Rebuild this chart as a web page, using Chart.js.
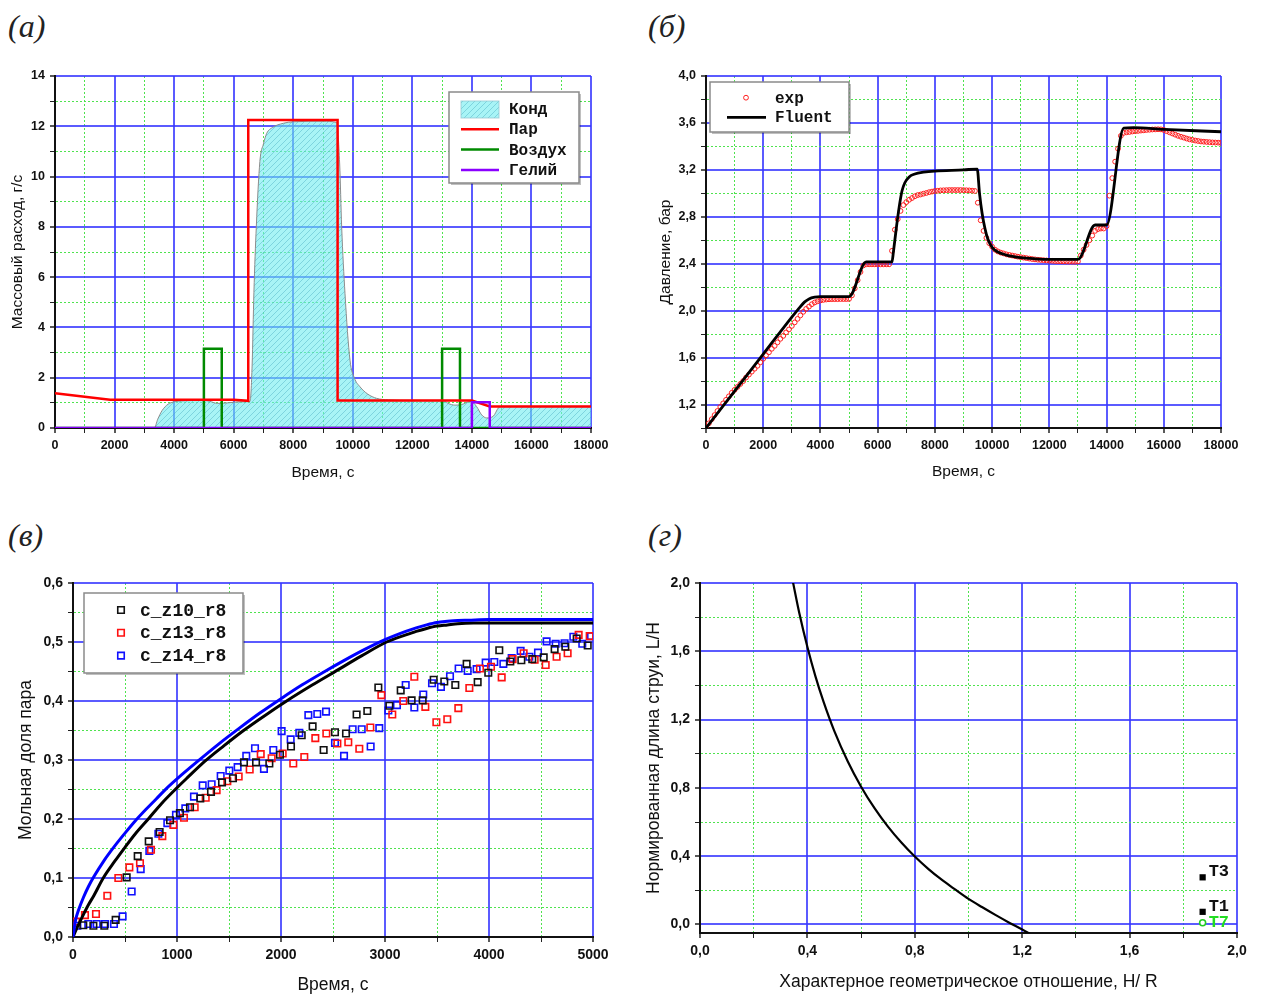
<!DOCTYPE html>
<html>
<head>
<meta charset="utf-8">
<script src="https://cdn.jsdelivr.net/npm/chart.js@4.4.1/dist/chart.umd.min.js"></script>
<style>
  body { margin: 0; background: #fff; width: 1263px; height: 996px; position: relative; overflow: hidden; }
  .pn { position: absolute; }
  .lbl { position: absolute; font: italic 32px "Liberation Serif", "Times New Roman", serif; color: #222; line-height: 40px; }
</style>
</head>
<body>
<div class="lbl" style="left:8px;top:6px">(а)</div>
<div class="lbl" style="left:648px;top:6px">(б)</div>
<div class="lbl" style="left:8px;top:515px">(в)</div>
<div class="lbl" style="left:648px;top:515px">(г)</div>

<canvas class="pn" id="ca" width="640" height="440" style="left:0;top:60px"></canvas>
<canvas class="pn" id="cb" width="623" height="440" style="left:640px;top:60px"></canvas>
<canvas class="pn" id="cc" width="630" height="436" style="left:0;top:560px"></canvas>
<canvas class="pn" id="cd" width="633" height="436" style="left:630px;top:560px"></canvas>

<script>
// ---------- (а) массовый расход, г/с ----------
const condT = [0, 3335, 3450, 3600, 3800, 4000, 4300, 5000, 5200, 5450, 5800, 6200, 6550, 6620, 6680, 6760, 6880, 7000, 7110, 7300, 7670, 8000, 9000, 9460, 9560, 9627, 9738, 9906, 10050, 10242, 10500, 10800, 11200, 12000, 13040, 13200, 13430, 13650, 13935, 14050, 14160, 14330, 14500, 14720, 14890, 15000, 18000];
const condV = [0, 0, 0.35, 0.7, 0.95, 1.04, 1.08, 1.1, 1.06, 0.98, 1.0, 1.04, 1.06, 2.5, 5.4, 8.0, 10.6, 11.3, 11.72, 11.95, 12.12, 12.18, 12.2, 12.15, 10.5, 8.0, 5.36, 2.7, 2.0, 1.64, 1.35, 1.18, 1.12, 1.1, 1.1, 0.98, 0.91, 0.93, 1.05, 1.0, 0.85, 0.52, 0.4, 0.47, 0.8, 0.86, 0.86];
const steamT = [0, 1850, 6000, 6490, 6490, 9490, 9490, 14000, 14600, 18000];
const steamV = [1.38, 1.12, 1.12, 1.08, 12.25, 12.25, 1.09, 1.09, 0.86, 0.86];
const airT = [0, 5000, 5000, 5600, 5600, 13000, 13000, 13600, 13600, 18000];
const airV = [0, 0, 3.15, 3.15, 0, 0, 3.15, 3.15, 0, 0];
const heT = [0, 14000, 14000, 14600, 14600, 18000];
const heV = [0, 0, 1.02, 1.02, 0, 0];

// ---------- (б) давление, бар ----------
const expT = [
  0, 100, 200, 300, 400, 500, 600, 700, 800, 900,
  1000, 1100, 1200, 1300, 1400, 1500, 1600, 1700, 1800, 1900,
  2000, 2100, 2200, 2300, 2400, 2500, 2600, 2700, 2800, 2900,
  3000, 3100, 3200, 3300, 3400, 3500, 3600, 3700, 3800, 3900,
  4000, 4100, 4200, 4300, 4400, 4500, 4600, 4700, 4800, 4900,
  5000, 5100, 5200, 5300, 5400, 5500, 5600, 5700, 5800, 5900,
  6000, 6100, 6200, 6300, 6400, 6500, 6600, 6700, 6800, 6900,
  7000, 7100, 7200, 7300, 7400, 7500, 7600, 7700, 7800, 7900,
  8000, 8100, 8200, 8300, 8400, 8500, 8600, 8700, 8800, 8900,
  9000, 9100, 9200, 9300, 9400, 9500, 9600, 9700, 9800, 9900,
  10000, 10100, 10200, 10300, 10400, 10500, 10600, 10700, 10800, 10900,
  11000, 11100, 11200, 11300, 11400, 11500, 11600, 11700, 11800, 11900,
  12000, 12100, 12200, 12300, 12400, 12500, 12600, 12700, 12800, 12900,
  13000, 13100, 13200, 13300, 13400, 13500, 13600, 13700, 13800, 13900,
  14000, 14100, 14200, 14300, 14400, 14500, 14600, 14700, 14800, 14900,
  15000, 15100, 15200, 15300, 15400, 15500, 15600, 15700, 15800, 15900,
  16000, 16100, 16200, 16300, 16400, 16500, 16600, 16700, 16800, 16900,
  17000, 17100, 17200, 17300, 17400, 17500, 17600, 17700, 17800, 17900, 18000];
const expP = [
  1.00, 1.04, 1.075, 1.11, 1.145, 1.18, 1.21, 1.24, 1.27, 1.30,
  1.325, 1.35, 1.375, 1.40, 1.43, 1.455, 1.48, 1.505, 1.53, 1.56,
  1.59, 1.62, 1.645, 1.675, 1.70, 1.73, 1.76, 1.785, 1.815, 1.84,
  1.87, 1.90, 1.93, 1.96, 1.99, 2.015, 2.035, 2.055, 2.07, 2.08,
  2.087, 2.092, 2.095, 2.097, 2.098, 2.098, 2.098, 2.099, 2.099, 2.099,
  2.10, 2.13, 2.19, 2.26, 2.33, 2.385, 2.395, 2.395, 2.395, 2.395,
  2.395, 2.395, 2.395, 2.395, 2.395, 2.51, 2.69, 2.78, 2.85, 2.90,
  2.925, 2.945, 2.96, 2.975, 2.985, 2.99, 2.997, 3.003, 3.01, 3.015,
  3.02, 3.022, 3.025, 3.026, 3.027, 3.028, 3.028, 3.028, 3.028, 3.028,
  3.027, 3.026, 3.025, 3.023, 3.02, 2.92, 2.77, 2.68, 2.62, 2.575,
  2.545, 2.52, 2.505, 2.495, 2.488, 2.48, 2.475, 2.47, 2.465, 2.46,
  2.456, 2.452, 2.448, 2.444, 2.44, 2.437, 2.434, 2.432, 2.43, 2.428,
  2.426, 2.425, 2.423, 2.422, 2.421, 2.42, 2.419, 2.418, 2.418, 2.417,
  2.42, 2.47, 2.52, 2.56, 2.60, 2.64, 2.68, 2.695, 2.70, 2.70,
  2.72, 2.98, 3.13, 3.27, 3.38, 3.49, 3.515, 3.52, 3.523, 3.527,
  3.53, 3.532, 3.535, 3.537, 3.54, 3.542, 3.544, 3.545, 3.546, 3.545,
  3.54, 3.53, 3.52, 3.51, 3.50, 3.49, 3.482, 3.475, 3.467, 3.46,
  3.455, 3.45, 3.446, 3.442, 3.44, 3.438, 3.436, 3.434, 3.433, 3.432, 3.43];
const fluT = [0, 1000, 2000, 3000, 3300, 3450, 3600, 3800, 4000, 5000, 5600, 6500, 6550, 6650, 6750, 6850, 6950, 7100, 7300, 7600, 8000, 9000, 9480, 9560, 9650, 9750, 9850, 10000, 10200, 10500, 11000, 11500, 12000, 13000, 13600, 14000, 14600, 14950, 16000, 18000];
const fluP = [1.0, 1.315, 1.63, 1.945, 2.035, 2.075, 2.1, 2.115, 2.12, 2.12, 2.415, 2.415, 2.5, 2.7, 2.88, 3.02, 3.09, 3.14, 3.165, 3.18, 3.19, 3.2, 3.207, 3.0, 2.83, 2.7, 2.61, 2.54, 2.5, 2.474, 2.452, 2.442, 2.437, 2.437, 2.73, 2.73, 3.555, 3.56, 3.545, 3.525];

// ---------- (в) мольная доля пара ----------
const z10T = [99, 196, 301, 410, 516, 622, 728, 833, 933, 1028, 1125, 1224, 1327, 1433, 1538, 1644, 1760, 1888, 1990, 2096, 2199, 2304, 2410, 2519, 2625, 2727, 2830, 2936, 3042, 3151, 3256, 3362, 3468, 3570, 3676, 3785, 3891, 3993, 4099, 4205, 4311, 4416, 4526, 4631, 4734, 4843, 4949];
const z10V = [0.020, 0.019, 0.019, 0.029, 0.101, 0.137, 0.162, 0.178, 0.198, 0.210, 0.220, 0.235, 0.246, 0.262, 0.269, 0.296, 0.296, 0.294, 0.309, 0.323, 0.342, 0.357, 0.317, 0.347, 0.345, 0.377, 0.383, 0.423, 0.392, 0.418, 0.401, 0.401, 0.436, 0.433, 0.427, 0.463, 0.432, 0.448, 0.486, 0.467, 0.469, 0.471, 0.474, 0.488, 0.492, 0.506, 0.494];
const z13T = [29, 115, 221, 330, 436, 542, 644, 750, 859, 965, 1067, 1170, 1276, 1381, 1484, 1593, 1699, 1805, 1910, 2016, 2118, 2224, 2330, 2436, 2542, 2647, 2753, 2859, 2965, 3070, 3176, 3282, 3388, 3494, 3599, 3705, 3811, 3913, 4019, 4122, 4227, 4333, 4439, 4545, 4650, 4756, 4862, 4968];
const z13V = [0.026, 0.037, 0.039, 0.070, 0.100, 0.118, 0.125, 0.148, 0.171, 0.190, 0.202, 0.220, 0.236, 0.249, 0.264, 0.272, 0.284, 0.310, 0.303, 0.311, 0.294, 0.305, 0.337, 0.345, 0.328, 0.330, 0.319, 0.355, 0.410, 0.377, 0.400, 0.441, 0.390, 0.364, 0.369, 0.388, 0.422, 0.455, 0.458, 0.440, 0.471, 0.481, 0.470, 0.461, 0.475, 0.481, 0.512, 0.510];
const z14T = [42, 147, 228, 308, 394, 477, 564, 651, 734, 821, 907, 990, 1080, 1163, 1247, 1333, 1420, 1503, 1583, 1666, 1750, 1836, 1926, 2006, 2093, 2176, 2263, 2349, 2433, 2519, 2606, 2689, 2776, 2862, 2945, 3032, 3115, 3199, 3282, 3368, 3452, 3538, 3625, 3708, 3795, 3881, 3968, 4051, 4138, 4218, 4304, 4388, 4471, 4554, 4641, 4727, 4811, 4897, 4981];
const z14V = [0.019, 0.022, 0.022, 0.022, 0.022, 0.035, 0.077, 0.115, 0.146, 0.175, 0.193, 0.207, 0.218, 0.238, 0.257, 0.259, 0.273, 0.282, 0.288, 0.307, 0.320, 0.285, 0.317, 0.349, 0.335, 0.346, 0.376, 0.378, 0.382, 0.329, 0.307, 0.352, 0.352, 0.323, 0.354, 0.384, 0.393, 0.427, 0.389, 0.411, 0.430, 0.424, 0.442, 0.455, 0.451, 0.454, 0.465, 0.466, 0.463, 0.473, 0.485, 0.475, 0.482, 0.501, 0.497, 0.498, 0.509, 0.497, 0.510];
const modBlueT = [0, 25, 50, 100, 150, 200, 300, 400, 500, 600, 700, 800, 900, 1000, 1200, 1400, 1600, 1800, 2000, 2200, 2400, 2600, 2800, 3000, 3200, 3300, 3400, 3500, 3600, 3700, 3800, 4000, 5000];
const modBlueV = [0, 0.029, 0.044, 0.067, 0.086, 0.102, 0.13, 0.154, 0.176, 0.197, 0.216, 0.234, 0.252, 0.268, 0.298, 0.327, 0.354, 0.38, 0.404, 0.427, 0.448, 0.468, 0.487, 0.504, 0.518, 0.524, 0.529, 0.533, 0.535, 0.5365, 0.537, 0.538, 0.538];
const modBlackT = [0, 50, 100, 150, 200, 291, 400, 500, 600, 724, 850, 1000, 1100, 1269, 1450, 1640, 1850, 2054, 2300, 2530, 2770, 3016, 3200, 3300, 3400, 3500, 3600, 3700, 3850, 4000, 5000];
const modBlackV = [0, 0.02, 0.038, 0.055, 0.07, 0.1, 0.128, 0.152, 0.175, 0.2, 0.226, 0.253, 0.27, 0.298, 0.324, 0.35, 0.376, 0.4, 0.427, 0.451, 0.476, 0.5, 0.512, 0.518, 0.523, 0.527, 0.529, 0.531, 0.532, 0.532, 0.532];

// ---------- (г) нормированная длина струи ----------
const hrX = [0.346, 0.37, 0.4, 0.43, 0.46, 0.5, 0.55, 0.6, 0.65, 0.7, 0.75, 0.8, 0.85, 0.9, 0.95, 1.0, 1.05, 1.1, 1.15, 1.2, 1.24];
const hrY = [2.007, 1.823, 1.625, 1.453, 1.305, 1.134, 0.956, 0.807, 0.681, 0.573, 0.48, 0.398, 0.326, 0.262, 0.205, 0.15, 0.102, 0.056, 0.012, -0.03, -0.065];
const tNames = ['T3', 'T1'];
const tX = [1.872, 1.872];
const tY = [0.276, 0.074];
const t7Names = ['T7'];
const t7X = [1.872];
const t7Y = [0.01];

// ---------- helpers ----------
const SANS = '"Liberation Sans", Arial, sans-serif';
const MONO = '"Liberation Mono", "Courier New", monospace';
const BLUE = 'rgba(55,55,255,0.82)';
const GREEN = 'rgba(70,225,70,0.95)';
const pts = (xs, ys) => xs.map((x, i) => ({x: x, y: ys[i]}));
const range = (a, b, s) => { const r = []; for (let k = 0; a + k * s <= b + 1e-9; k++) r.push(Math.round((a + k * s) * 1e6) / 1e6); return r; };
const comma = d => v => v.toFixed(d).replace('.', ',');

function axis(pos, o) {
  const kind = v => {
    if (v == null) return 0;
    if (Math.abs(v / o.major - Math.round(v / o.major)) < 1e-6) return 2;
    if (Math.abs(v / o.minor - Math.round(v / o.minor)) < 1e-6) return 1;
    return 0;
  };
  const k = c => kind(c.tick ? c.tick.value : null);
  return {
    type: 'linear', position: pos, min: o.min, max: o.max,
    afterBuildTicks: s => { s.ticks = o.ticks.map(v => ({value: v})); },
    afterFit: s => { if (pos === 'left') s.width = o.size; else s.height = o.size; },
    grid: {
      color: c => k(c) === 2 ? BLUE : (k(c) === 1 ? GREEN : 'rgba(0,0,0,0)'),
      lineWidth: c => k(c) === 2 ? 2 : 1,
      tickColor: c => k(c) ? '#222' : 'rgba(0,0,0,0)',
      tickWidth: c => k(c) === 2 ? 1.5 : 1,
      tickLength: 5
    },
    border: {color: '#111', width: 2, dash: c => k(c) === 1 ? [2, 2] : []},
    ticks: {
      autoSkip: false, maxRotation: 0, padding: 5, color: '#111',
      font: {family: SANS, size: o.tickSize, weight: 'bold'},
      callback: v => kind(v) === 2 ? o.fmt(v) : ''
    },
    title: {display: true, text: o.title, color: '#111', font: {family: SANS, size: o.titleSize}, padding: o.titlePad}
  };
}

// рамка легенды внутри области графика
const boxLegend = {
  id: 'boxLegend',
  afterDraw(chart, args, o) {
    if (!o.items) return;
    const ctx = chart.ctx;
    ctx.save();
    ctx.fillStyle = 'rgba(0,0,0,0.25)';
    ctx.fillRect(o.x + 2, o.y + 2, o.w, o.h);
    ctx.fillStyle = '#fff';
    ctx.fillRect(o.x, o.y, o.w, o.h);
    ctx.strokeStyle = '#8a8a8a';
    ctx.lineWidth = 1.5;
    ctx.strokeRect(o.x, o.y, o.w, o.h);
    ctx.font = o.font;
    ctx.textBaseline = 'middle';
    o.items.forEach((it, i) => {
      const ds = chart.data.datasets[it.ds];
      const y = o.y + o.row0 + i * o.rowH;
      if (it.kind === 'fill') {
        ctx.fillStyle = ds.backgroundColor;
        ctx.fillRect(o.sx, y - 8, o.sw, 17);
        ctx.strokeStyle = 'rgba(150,200,210,0.8)';
        ctx.lineWidth = 1;
        ctx.strokeRect(o.sx, y - 8, o.sw, 17);
      } else if (it.kind === 'line') {
        ctx.strokeStyle = ds.borderColor;
        ctx.lineWidth = ds.borderWidth;
        ctx.beginPath(); ctx.moveTo(o.sx, y); ctx.lineTo(o.sx + o.sw, y); ctx.stroke();
      } else {
        ctx.strokeStyle = ds.borderColor;
        ctx.lineWidth = ds.borderWidth;
        ctx.beginPath();
        if (it.kind === 'circle') ctx.arc(o.mx, y, ds.pointRadius, 0, Math.PI * 2);
        else { const h = ds.pointRadius * Math.SQRT1_2; ctx.rect(o.mx - h, y - h, 2 * h, 2 * h); }
        ctx.stroke();
      }
      ctx.fillStyle = '#111';
      ctx.fillText(ds.label, o.tx, y + 1);
    });
    ctx.restore();
  }
};

// подписи точек T1, T3, T7
const pointNames = {
  id: 'pointNames',
  afterDatasetsDraw(chart, args, o) {
    const ctx = chart.ctx;
    ctx.save();
    ctx.font = o.font;
    ctx.textBaseline = 'middle';
    chart.data.datasets.forEach((ds, di) => {
      if (!ds.names) return;
      chart.getDatasetMeta(di).data.forEach((p, i) => {
        ctx.fillStyle = ds.nameColor;
        ctx.fillText(ds.names[i], p.x + 6, p.y + ds.nameDy[i]);
      });
    });
    ctx.restore();
  }
};

function hatch() {
  const c = document.createElement('canvas');
  c.width = 6; c.height = 6;
  const g = c.getContext('2d');
  g.fillStyle = 'rgba(110,236,240,0.6)';
  g.fillRect(0, 0, 6, 6);
  g.strokeStyle = 'rgba(70,170,190,0.55)';
  g.lineWidth = 0.8;
  g.beginPath();
  g.moveTo(0, 6); g.lineTo(6, 0);
  g.moveTo(-1, 1); g.lineTo(1, -1);
  g.moveTo(5, 7); g.lineTo(7, 5);
  g.stroke();
  return g.createPattern(c, 'repeat');
}

function base(padTop, padRight, scales, plugins) {
  return {
    responsive: false, animation: false, events: [],
    layout: {padding: {top: padTop, right: padRight, left: 0, bottom: 0}},
    scales: scales,
    plugins: Object.assign({legend: {display: false}, tooltip: {enabled: false}}, plugins)
  };
}

// ---------- (а) ----------
new Chart(document.getElementById('ca'), {
  type: 'line',
  data: {datasets: [
    {label: 'Конд', data: pts(condT, condV), fill: 'origin', backgroundColor: hatch(), borderColor: '#8c8c8c', borderWidth: 1, pointRadius: 0, cubicInterpolationMode: 'monotone', order: 4},
    {label: 'Пар', data: pts(steamT, steamV), borderColor: '#ff0000', borderWidth: 2.5, pointRadius: 0, tension: 0, order: 2},
    {label: 'Воздух', data: pts(airT, airV), borderColor: '#008a00', borderWidth: 2.5, pointRadius: 0, tension: 0, order: 3},
    {label: 'Гелий', data: pts(heT, heV), borderColor: '#8a00ff', borderWidth: 2.5, pointRadius: 0, tension: 0, order: 1}
  ]},
  options: base(16, 49, {
    x: axis('bottom', {min: 0, max: 18000, ticks: range(0, 18000, 1000), major: 2000, minor: 1000, fmt: v => String(v), size: 72, tickSize: 12.5, title: 'Время, с', titleSize: 15.5, titlePad: {top: 0, bottom: 18}}),
    y: axis('left', {min: 0, max: 14, ticks: range(0, 14, 1), major: 2, minor: 1, fmt: v => String(v), size: 55, tickSize: 12.5, title: 'Массовый расход, г/с', titleSize: 15.5, titlePad: {top: 8, bottom: 0}})
  }, {
    boxLegend: {x: 449, y: 32, w: 130, h: 91, row0: 17, rowH: 20.3, sx: 461, sw: 38, tx: 509, font: 'bold 16px ' + MONO,
      items: [{ds: 0, kind: 'fill'}, {ds: 1, kind: 'line'}, {ds: 2, kind: 'line'}, {ds: 3, kind: 'line'}]}
  }),
  plugins: [boxLegend]
});

// ---------- (б) ----------
new Chart(document.getElementById('cb'), {
  type: 'line',
  data: {datasets: [
    {label: 'exp', data: pts(expT, expP), showLine: false, pointStyle: 'circle', pointRadius: 2.4, borderWidth: 1, borderColor: '#ff2020', backgroundColor: 'rgba(255,255,255,0)', pointBackgroundColor: 'rgba(255,255,255,0)', order: 2},
    {label: 'Fluent', data: pts(fluT, fluP), borderColor: '#000', borderWidth: 2.8, pointRadius: 0, cubicInterpolationMode: 'monotone', order: 1}
  ]},
  options: base(16, 42, {
    x: axis('bottom', {min: 0, max: 18000, ticks: range(0, 18000, 1000), major: 2000, minor: 1000, fmt: v => String(v), size: 72, tickSize: 12.5, title: 'Время, с', titleSize: 15.5, titlePad: {top: 0, bottom: 19}}),
    y: axis('left', {min: 1.0, max: 4.0, ticks: range(1.0, 4.0, 0.2), major: 0.4, minor: 0.2, fmt: comma(1), size: 66, tickSize: 12.5, title: 'Давление, бар', titleSize: 15.5, titlePad: {top: 16, bottom: 0}})
  }, {
    boxLegend: {x: 70, y: 22, w: 139, h: 50, row0: 15.7, rowH: 19.6, sx: 87, sw: 39, mx: 106, tx: 135, font: 'bold 16px ' + MONO,
      items: [{ds: 0, kind: 'circle'}, {ds: 1, kind: 'line'}]}
  }),
  plugins: [boxLegend]
});

// ---------- (в) ----------
const sq = (label, t, v, color) => ({label: label, data: pts(t, v), showLine: false, pointStyle: 'rect', pointRadius: 4.6, borderWidth: 1.6, borderColor: color, backgroundColor: 'rgba(255,255,255,0)', pointBackgroundColor: 'rgba(255,255,255,0)', order: 2});
new Chart(document.getElementById('cc'), {
  type: 'line',
  data: {datasets: [
    sq('c_z10_r8', z10T, z10V, '#111'),
    sq('c_z13_r8', z13T, z13V, '#ff1010'),
    sq('c_z14_r8', z14T, z14V, '#1010ff'),
    {label: 'model z14', data: pts(modBlueT, modBlueV), borderColor: '#0000ff', borderWidth: 3, pointRadius: 0, cubicInterpolationMode: 'monotone', order: 1},
    {label: 'model z10', data: pts(modBlackT, modBlackV), borderColor: '#000', borderWidth: 3, pointRadius: 0, cubicInterpolationMode: 'monotone', order: 1}
  ]},
  options: base(23, 37, {
    x: axis('bottom', {min: 0, max: 5000, ticks: range(0, 5000, 500), major: 1000, minor: 500, fmt: v => String(v), size: 59, tickSize: 14, title: 'Время, с', titleSize: 17.5, titlePad: {top: 0, bottom: 0}}),
    y: axis('left', {min: 0, max: 0.6, ticks: range(0, 0.6, 0.05), major: 0.1, minor: 0.05, fmt: comma(1), size: 73, tickSize: 14, title: 'Мольная доля пара', titleSize: 17.5, titlePad: {top: 16, bottom: 0}})
  }, {
    boxLegend: {x: 84, y: 33, w: 159, h: 80, row0: 17, rowH: 22.8, mx: 121, tx: 140, font: 'bold 18px ' + MONO,
      items: [{ds: 0, kind: 'rect'}, {ds: 1, kind: 'rect'}, {ds: 2, kind: 'rect'}]}
  }),
  plugins: [boxLegend]
});

// ---------- (г) ----------
new Chart(document.getElementById('cd'), {
  type: 'line',
  data: {datasets: [
    {label: 'L/H', data: pts(hrX, hrY), borderColor: '#000', borderWidth: 2.2, pointRadius: 0, cubicInterpolationMode: 'monotone'},
    {label: 'T', data: pts(tX, tY), showLine: false, pointStyle: 'rect', pointRadius: 4.4, borderWidth: 0, backgroundColor: '#000', pointBackgroundColor: '#000', names: tNames, nameColor: '#111', nameDy: [-6, -5]},
    {label: 'T7', data: pts(t7X, t7Y), showLine: false, pointStyle: 'circle', pointRadius: 3, borderWidth: 1.6, borderColor: '#22cc22', pointBackgroundColor: '#fff', names: t7Names, nameColor: '#22dd22', nameDy: [0]}
  ]},
  options: base(23, 26, {
    x: axis('bottom', {min: 0, max: 2.0, ticks: range(0, 2.0, 0.2), major: 0.4, minor: 0.2, fmt: comma(1), size: 63, tickSize: 14, title: 'Характерное геометрическое отношение, H/ R', titleSize: 17.5, titlePad: {top: 0, bottom: 3}}),
    y: axis('left', {min: -0.05, max: 2.0, ticks: [-0.05].concat(range(0, 2.0, 0.2)), major: 0.4, minor: 0.2, fmt: comma(1), size: 70, tickSize: 14, title: 'Нормированная длина струи, L/H', titleSize: 17.5, titlePad: {top: 14, bottom: 0}})
  }, {
    pointNames: {font: 'bold 17px ' + MONO}
  }),
  plugins: [pointNames]
});
</script>
</body>
</html>
